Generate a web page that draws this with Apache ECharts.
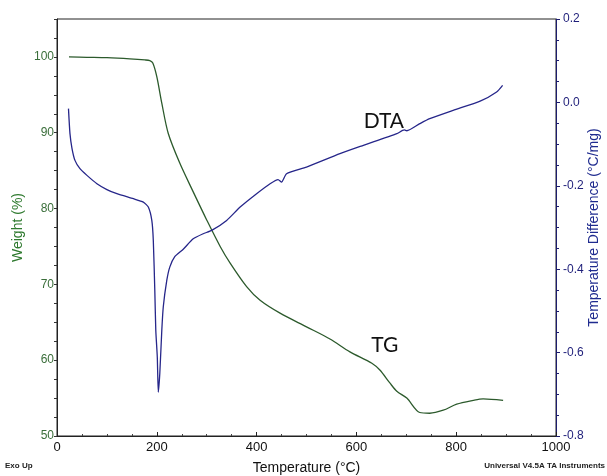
<!DOCTYPE html>
<html><head><meta charset="utf-8">
<script src="https://cdn.jsdelivr.net/npm/echarts@6/dist/echarts.min.js"></script>
<style>html,body{margin:0;padding:0;background:#fff}#c{width:607px;height:476px}</style>
</head><body><div id="c"></div>
<script>
// TG curve: temperature (°C) and weight (%)
const tgTemp = [24, 60, 100, 146, 176, 186, 192, 200, 210, 223, 246, 273, 300, 327, 347, 380, 407, 447, 500, 547, 587, 631, 647, 667, 681, 701, 727, 747, 774, 801, 834, 854, 894];
const tgWeight = [100, 99.95, 99.9, 99.75, 99.6, 99.5, 99.2, 97.4, 93.9, 89.9, 86.0, 82.2, 78.5, 75.0, 72.8, 69.7, 67.9, 66.2, 64.4, 62.8, 61.1, 59.6, 58.7, 57.0, 55.9, 55.0, 53.1, 53.0, 53.4, 54.2, 54.7, 54.9, 54.7];
// DTA curve: temperature (°C) and temperature difference (°C/mg)
const dtaTemp = [23, 26, 30, 36, 46, 60, 80, 100, 120, 153, 173, 183, 190, 193, 196, 198, 201, 203, 206, 210, 213, 220, 226, 236, 253, 273, 293, 310, 340, 367, 400, 427, 443, 450, 460, 500, 567, 614, 681, 696, 701, 727, 747, 794, 848, 881, 893];
const dtaDiff = [-0.015, -0.075, -0.11, -0.139, -0.159, -0.175, -0.195, -0.209, -0.219, -0.231, -0.239, -0.251, -0.283, -0.331, -0.451, -0.547, -0.611, -0.695, -0.65, -0.547, -0.49, -0.427, -0.395, -0.37, -0.352, -0.327, -0.315, -0.307, -0.283, -0.251, -0.219, -0.195, -0.185, -0.191, -0.171, -0.155, -0.123, -0.103, -0.075, -0.066, -0.068, -0.051, -0.039, -0.019, 0.003, 0.025, 0.041];
// Axis labelling
const xTicks = [0, 200, 400, 600, 800, 1000];
const weightTicks = [50, 60, 70, 80, 90, 100];
const diffTicks = [-0.8, -0.6, -0.4, -0.2, 0.0, 0.2];
// Curve annotations [label, temperature, value, axis index]
const annotations = [["DTA", 655, -0.046, 1], ["TG", 657, 62.0, 0]];

const tgData = tgTemp.map((t, i) => [t, tgWeight[i]]);
const dtaData = dtaTemp.map((t, i) => [t, dtaDiff[i]]);

const chart = echarts.init(document.getElementById('c'), null, {renderer: 'canvas'});
const FONT = 'Liberation Sans, Arial, sans-serif';
chart.setOption({
  animation: false,
  backgroundColor: '#fff',
  grid: {left: 57, right: 51, top: 19, bottom: 40, show: true, borderColor: '#222', borderWidth: 1,
    backgroundColor: 'transparent', containLabel: false, outerBoundsMode: 'none'},
  xAxis: {
    type: 'value', min: xTicks[0], max: xTicks[xTicks.length - 1], interval: 200,
    name: 'Temperature (°C)', nameLocation: 'middle', nameGap: 25, nameMoveOverlap: false,
    nameTextStyle: {color: '#111', fontSize: 14, fontFamily: FONT},
    axisLine: {show: true, onZero: false, lineStyle: {color: '#222', width: 1}},
    axisTick: {show: true, inside: true, length: 4, lineStyle: {color: '#222'}},
    minorTick: {show: true, splitNumber: 4, length: 2, lineStyle: {color: '#444'}},
    axisLabel: {color: '#111', fontSize: 13, fontFamily: FONT, margin: 5,
      formatter: v => xTicks.includes(v) ? String(v) : ''},
    splitLine: {show: false}
  },
  yAxis: [{
    type: 'value', min: 50, max: 105, interval: 2.5, position: 'left',
    name: 'Weight (%)', nameLocation: 'middle', nameGap: 32, nameRotate: 90, nameMoveOverlap: false,
    nameTextStyle: {color: '#2f7a2f', fontSize: 14, fontFamily: FONT},
    axisLine: {show: true, onZero: false, lineStyle: {color: '#222', width: 1}},
    axisTick: {show: true, inside: false, length: 3, lineStyle: {color: '#333'}},
    axisLabel: {color: '#3a6e3a', fontSize: 12, fontFamily: FONT, margin: 3,
      formatter: v => weightTicks.includes(v) ? String(v) : ''},
    splitLine: {show: false}
  }, {
    type: 'value', min: diffTicks[0], max: diffTicks[diffTicks.length - 1], interval: 0.2, position: 'right',
    name: 'Temperature Difference (°C/mg)', nameLocation: 'middle', nameGap: 31, nameRotate: 90, nameMoveOverlap: false,
    nameTextStyle: {color: '#1f2b8f', fontSize: 14, fontFamily: FONT},
    axisLine: {show: true, onZero: false, lineStyle: {color: '#1c1c6e', width: 1}},
    axisTick: {show: true, inside: false, length: 4, lineStyle: {color: '#1c1c6e'}},
    minorTick: {show: true, splitNumber: 4, length: 3, lineStyle: {color: '#1c1c6e'}},
    axisLabel: {color: '#1f1f7a', fontSize: 12, fontFamily: FONT, margin: 7,
      formatter: v => v.toFixed(1)},
    splitLine: {show: false}
  }],
  series: [{
    name: 'TG', type: 'line', yAxisIndex: 0, data: tgData, symbol: 'none', smooth: 0.3,
    lineStyle: {color: '#2c5a2c', width: 1.3}
  }, {
    name: 'DTA', type: 'line', yAxisIndex: 1, data: dtaData, symbol: 'none', smooth: 0.2,
    lineStyle: {color: '#26268a', width: 1.3}
  }]
});

const graphics = annotations.map(a => {
  const p = chart.convertToPixel({xAxisIndex: 0, yAxisIndex: a[3]}, [a[1], a[2]]);
  return {type: 'text', x: p[0], y: p[1],
    style: {text: a[0], fill: '#111', font: '21px Lato, "Open Sans", sans-serif', textAlign: 'center', textVerticalAlign: 'middle'}};
});
graphics.push({type: 'text', left: 5, top: 462, style: {text: 'Exo Up', fill: '#222', font: 'bold 8px ' + FONT}});
graphics.push({type: 'text', right: 2, top: 462, style: {text: 'Universal V4.5A TA Instruments', fill: '#222', font: 'bold 8px ' + FONT}});
chart.setOption({graphic: graphics});
</script>
</body></html>
